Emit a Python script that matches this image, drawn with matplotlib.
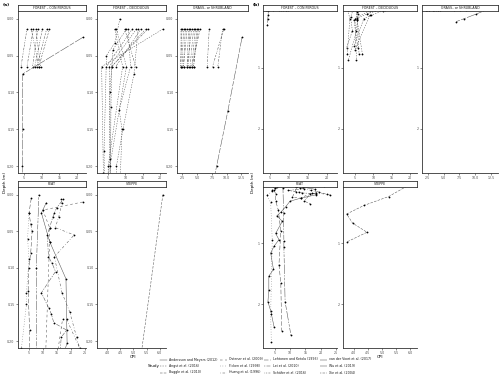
import matplotlib
matplotlib.use("Agg")
import matplotlib.pyplot as plt
from matplotlib.lines import Line2D

# ---------------- data ----------------
studies = ["Andersson and Meyers (2012)", "Angst et al. (2016)", "Buggle et al. (2010)",
           "Ostener et al. (2009)", "Ficken et al. (1998)", "Huang et al. (1996)",
           "Lehtonen and Ketola (1993)", "Lei et al. (2010)", "Schäfer et al. (2016)",
           "van der Voort et al. (2017)", "Wu et al. (2019)", "Xie et al. (2004)"]

facet_names = ["FOREST – CONIFEROUS", "FOREST – DECIDUOUS", "GRASS– or SHRUBLAND", "PEAT", "STEPPE"]

conif_study = ["Schäfer et al. (2016)"] * 8 + ["van der Voort et al. (2017)"]
conif_cpi = [[5.8, 4.1], [7.0, 9.2], [7.6, 5.8], [8.3, 9.7], [8.9, 7.4], [10.2, 8.0],
             [11.4, 8.6], [12.2, 9.2], [21.8, 4.6, 4.6, 4.5, 4.4]]
conif_depth = [[0.014, 0.065]] * 8 + [[0.025, 0.075, 0.15, 0.20, 0.31]]

decid_study = ["Angst et al. (2016)"] * 9 + ["Schäfer et al. (2016)"] * 4
decid_cpi = [[8.4, 6.9, 4.5, 3.8, 4.3, 2.7],
             [20.9, 3.1, 3.6, 2.9],
             [15.9, 6.0, 5.8, 5.4, 3.2],
             [13.7, 12.5, 9.3, 7.4, 4.7],
             [10.8, 11.5, 8.2, 9.0, 4.9],
             [10.3, 6.4, 5.5, 5.6, 6.1],
             [13.2, 5.3, 5.5, 4.7, 5.8],
             [7.4, 10.3, 5.5, 5.6, 7.0],
             [6.9, 9.2, 5.0, 5.4],
             [9.8, 13.0], [14.5, 7.2], [16.5, 6.0], [12.0, 4.5]]
decid_depth = [[0.0, 0.033, 0.05, 0.18, 0.40, 0.68],
               [0.014, 0.065, 0.21, 0.78],
               [0.014, 0.065, 0.12, 0.41, 0.88],
               [0.014, 0.075, 0.15, 0.20, 0.65],
               [0.014, 0.065, 0.124, 0.15, 0.72],
               [0.014, 0.042, 0.10, 0.23, 0.78],
               [0.014, 0.065, 0.19, 0.22, 0.68],
               [0.014, 0.065, 0.20, 0.23, 0.78],
               [0.014, 0.065, 0.20, 0.88],
               [0.014, 0.065], [0.014, 0.065], [0.014, 0.065], [0.014, 0.065]]

grass_study = ["Schäfer et al. (2016)"] * 16 + ["van der Voort et al. (2017)"]
grass_cpi = [[2.2, 2.2], [2.45, 2.2], [2.7, 2.45], [3.0, 2.7], [3.3, 2.7], [3.55, 3.3],
             [3.8, 3.55], [4.1, 3.3], [4.4, 3.8], [4.7, 4.1], [4.95, 4.4], [5.2, 4.4],
             [5.5, 4.1], [7.05, 6.7], [9.3, 8.5], [9.5, 7.6], [12.6, 10.2, 8.3, 7.0]]
grass_depth = [[0.014, 0.065]] * 16 + [[0.025, 0.125, 0.20, 0.25]]

peat_study = ["Andersson and Meyers (2012)", "Xie et al. (2004)", "Lehtonen and Ketola (1993)",
              "Ficken et al. (1998)", "Lei et al. (2010)", "Huang et al. (1996)",
              "Ostener et al. (2009)"]
peat_cpi = [[11.2, 9.5, 12.4, 18.2, 18.6, 13.5, 10.0, 8.6, 7.0, 5.7, 7.5, 5.3, 6.4, 4.8, 3.7,
             4.6, 3.1, 3.1, 2.8, 3.7, 4.8],
            [8.6, 7.7, 7.9, 8.0, 8.0, 8.4, 10.3],
            [5.9, 5.1, 5.7, 6.2, 5.7, 5.0, 4.8, 5.3, 5.3, 6.2, 7.0, 6.4, 7.0, 7.3],
            [5.1, 4.6, 5.1, 4.2, 4.2, 2.4, 3.7, 4.2, 3.7, 3.9],
            [17.3, 14.9, 14.1, 13.5, 12.4, 11.6, 12.0, 13.2, 14.5, 9.5, 12.1, 13.0, 13.9,
             18.4, 16.5, 14.6, 16.6],
            [16.5, 16.8, 15.6, 14.4, 21.1, 14.1, 16.8, 19.5, 22.0, 23.1, 18.4],
            [24.1, 10.0, 12.4, 12.4, 10.8, 13.5, 17.0]]
peat_depth = [[0.011, 0.025, 0.064, 0.115, 0.203, 0.26, 0.31, 0.40, 0.49, 0.55, 0.64, 0.84,
               0.94, 1.05, 1.16, 1.43, 1.54, 1.77, 1.96, 2.11, 2.37],
              [0.0, 0.10, 0.50, 0.97, 1.06, 1.96, 2.51],
              [0.005, 0.025, 0.040, 0.050, 0.080, 0.10, 0.131, 0.185, 0.30, 0.46, 0.80, 1.35,
               1.66, 2.44],
              [0.025, 0.06, 0.088, 0.134, 0.15, 0.21, 0.33, 0.94, 2.16, 2.62],
              [0.006, 0.018, 0.025, 0.031, 0.045, 0.055, 0.085, 0.093, 0.105, 0.134, 0.155,
               0.163, 0.175, 0.185, 0.195, 0.31, 0.35],
              [0.006, 0.011, 0.031, 0.045, 0.055, 0.085, 0.134, 0.16, 0.195, 0.21, 0.17],
              [0.010, 0.021, 0.045, 0.064, 0.24, 0.26, 0.17]]

steppe_study = ["Buggle et al. (2010)"]
steppe_cpi = [[6.12, 5.24, 4.36, 3.75, 3.96, 4.47, 3.75]]
steppe_depth = [[0.0, 0.233, 0.38, 0.52, 0.67, 0.82, 0.98]]

# ---------------- styling ----------------
gg_lt = ["solid", "22", "42", "44", "13", "1343", "73", "2262", "12223242", "F282",
         "F4448444", "224282F2"]


def to_ls(code, scale=1.3):
    if code == "solid":
        return "-"
    seq = [int(c, 16) * scale for c in code]
    return (0, seq)


study_ls = {s: to_ls(gg_lt[i]) for i, s in enumerate(studies)}

W, H = 500, 383
fig = plt.figure(figsize=(W / 100, H / 100), dpi=100)
fig.patch.set_facecolor("white")

AXC = "#333333"
TXC = "#4d4d4d"
LNC = "#4a4a4a"
FS = 2.3


def rect(x0, y0, x1, y1):
    return [x0 / W, 1 - y1 / H, (x1 - x0) / W, (y1 - y0) / H]


facet_data = [(conif_study, conif_cpi, conif_depth, (3.25, 22.6), [5, 10, 15, 20], ["5", "10", "15", "20"]),
              (decid_study, decid_cpi, decid_depth, (1.75, 21.8), [5, 10, 15, 20], ["5", "10", "15", "20"]),
              (grass_study, grass_cpi, grass_depth, (1.6, 13.6), [2.5, 5, 7.5, 10, 12.5],
               ["2.5", "5.0", "7.5", "10.0", "12.5"]),
              (peat_study, peat_cpi, peat_depth, (1.2, 25.3), [5, 10, 15, 20, 25], ["5", "10", "15", "20", "25"]),
              (steppe_study, steppe_cpi, steppe_depth, (3.62, 6.24), [4.0, 4.5, 5.0, 5.5, 6.0],
               ["4.0", "4.5", "5.0", "5.5", "6.0"])]

panels = [
    dict(label="(a)", lx=3, cols=[(18, 86), (97, 166), (177, 248)],
         ylim=(0.2095, -0.0105), yt=[0, 0.05, 0.10, 0.15, 0.20],
         ytl=["0.00", "0.05", "0.10", "0.15", "0.20"], cpi_x=133, dep_x=5),
    dict(label="(b)", lx=253, cols=[(263, 337), (343, 417), (422, 498)],
         ylim=(2.72, 0.077), yt=[1, 2], ytl=["1", "2"], cpi_x=380, dep_x=253),
]
rows = [(11, 173, 5), (187, 348, 181)]

for p in panels:
    for fi in range(5):
        r = 0 if fi < 3 else 1
        x0, x1 = p["cols"][fi % 3]
        yt0, yt1, ys = rows[r]
        study, cpis, deps, xlim, xt, xtl = facet_data[fi]
        ax = fig.add_axes(rect(x0, yt0, x1, yt1))
        for s, c, d in zip(study, cpis, deps):
            ax.plot(c, d, linestyle=study_ls[s], color=LNC, lw=0.35,
                    marker="o", ms=1.3, mfc="black", mec="none")
        ax.set_xlim(*xlim)
        ax.set_ylim(*p["ylim"])
        ax.set_xticks(xt)
        ax.set_xticklabels(xtl)
        ax.set_yticks(p["yt"])
        ax.set_yticklabels(p["ytl"])
        for side in ("top", "right"):
            ax.spines[side].set_visible(False)
        for side in ("left", "bottom"):
            ax.spines[side].set_color(AXC)
            ax.spines[side].set_linewidth(0.6)
        ax.tick_params(length=1.5, width=0.4, color=AXC, labelsize=FS, labelcolor=TXC, pad=1)
        ax.set_facecolor("white")
        # strip
        sax = fig.add_axes(rect(x0, ys, x1, yt0))
        sax.set_xticks([])
        sax.set_yticks([])
        for sp in sax.spines.values():
            sp.set_color(AXC)
            sp.set_linewidth(0.6)
        sax.text(0.5, 0.5, facet_names[fi], ha="center", va="center", fontsize=FS,
                 color="#1a1a1a", transform=sax.transAxes)
    fig.text(p["lx"] / W, 1 - 5 / H, p["label"], fontsize=3.2, fontweight="bold",
             ha="left", va="center")
    fig.text(p["cpi_x"] / W, 1 - 357 / H, "CPI", fontsize=3.0, ha="center", va="center")
    fig.text(p["dep_x"] / W, 1 - 182 / H, "Depth (m)", fontsize=3.0, ha="center",
             va="center", rotation=90)

# legend
fig.text(148 / W, 1 - 366 / H, "Study", fontsize=3.0, ha="left", va="center")
col_x = [160, 220, 264, 320]
row_y = [359.5, 366, 372.5]
for i, s in enumerate(studies):
    cx = col_x[i // 3]
    cy = row_y[i % 3]
    fig.add_artist(Line2D([cx / W, (cx + 7) / W], [1 - cy / H, 1 - cy / H],
                          linestyle=study_ls[s], color=LNC, lw=0.35))
    fig.text((cx + 9) / W, 1 - cy / H, s, fontsize=FS, ha="left", va="center", color="#1a1a1a")

fig.savefig("out.png", dpi=100, facecolor="white")
